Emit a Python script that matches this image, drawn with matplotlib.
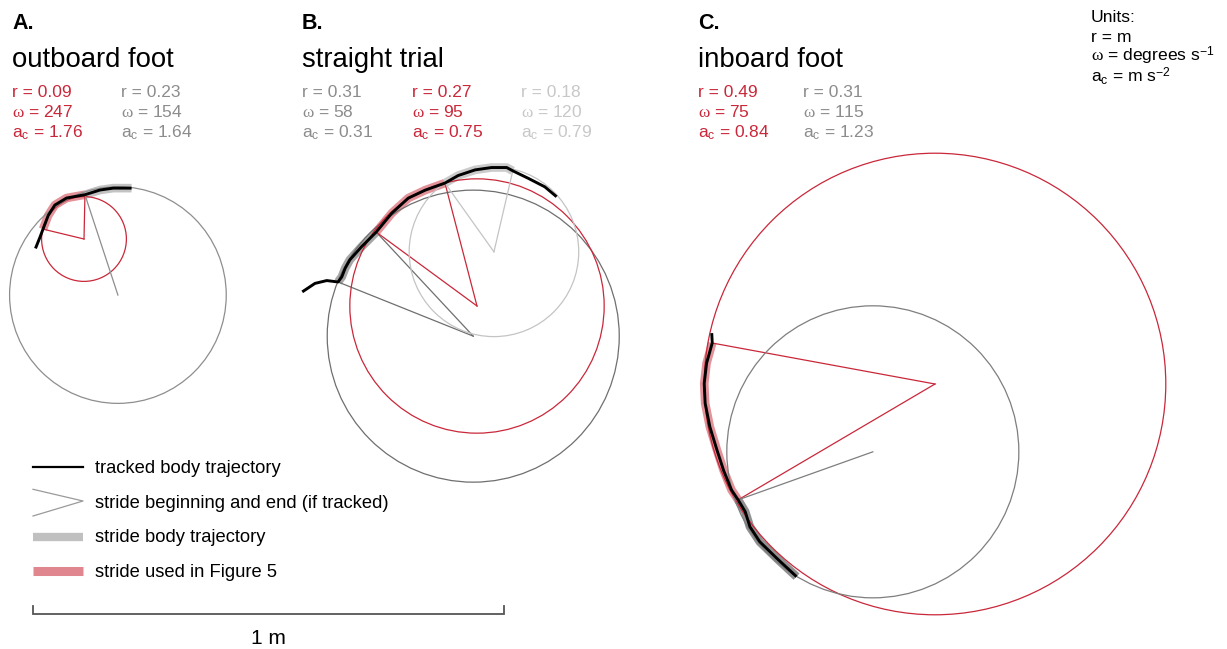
import matplotlib
matplotlib.use("Agg")
import matplotlib.pyplot as plt
from matplotlib.patches import Circle
import numpy as np

plt.rcParams["font.family"] = ["Liberation Sans", "DejaVu Sans"]
plt.rcParams["mathtext.fontset"] = "custom"
plt.rcParams["mathtext.rm"] = "Liberation Sans"
plt.rcParams["mathtext.it"] = "Liberation Serif"
plt.rcParams["mathtext.bf"] = "Liberation Sans:bold"

# ---------------------------------------------------------------------------
# Data (metres).  Each panel is expressed relative to the centre of the
# stride circle used in Figure 5 (red).  Trajectory indices mark stride ends.
# ---------------------------------------------------------------------------
PANEL_LETTERS = ["A.", "B.", "C."]
PANEL_TITLES = ["outboard foot", "straight trial", "inboard foot"]

# A. outboard foot
A_TRAJ_X = [-0.103, -0.093, -0.087, -0.076, -0.062, -0.037, 0.002, 0.034, 0.062, 0.101]
A_TRAJ_Y = [-0.020, 0.005, 0.021, 0.050, 0.072, 0.087, 0.094, 0.104, 0.108, 0.108]
A_CENTER_X = [0.0, 0.072]
A_CENTER_Y = [0.0, -0.119]
A_RADIUS = [0.09, 0.23]
A_OMEGA = [247, 154]
A_AC = [1.76, 1.64]
A_STRIDE_START = [2, 6]
A_STRIDE_END = [6, 9]
A_END_TRACKED = [(True, True), (True, False)]

# B. straight trial
B_TRAJ_X = [-0.371, -0.344, -0.319, -0.295, -0.287, -0.280, -0.270, -0.245, -0.214,
            -0.181, -0.146, -0.110, -0.068, -0.040, -0.004, 0.031, 0.063, 0.076,
            0.109, 0.144, 0.169]
B_TRAJ_Y = [0.030, 0.048, 0.054, 0.051, 0.062, 0.080, 0.098, 0.126, 0.157,
            0.197, 0.229, 0.246, 0.261, 0.277, 0.289, 0.294, 0.294, 0.287,
            0.271, 0.253, 0.232]
B_CENTER_X = [-0.008, 0.0, 0.036]
B_CENTER_Y = [-0.064, 0.0, 0.115]
B_RADIUS = [0.31, 0.27, 0.18]
B_OMEGA = [58, 95, 120]
B_AC = [0.31, 0.75, 0.79]
B_STRIDE_START = [3, 8, 12]
B_STRIDE_END = [8, 12, 17]
B_END_TRACKED = [(True, True), (True, True), (True, True)]

# C. inboard foot
C_TRAJ_X = [-0.474, -0.473, -0.485, -0.490, -0.488, -0.478, -0.463, -0.449, -0.432,
            -0.418, -0.403, -0.393, -0.372, -0.336, -0.294]
C_TRAJ_Y = [0.108, 0.087, 0.044, 0.001, -0.041, -0.091, -0.140, -0.183, -0.225,
            -0.246, -0.271, -0.303, -0.335, -0.370, -0.409]
C_CENTER_X = [0.0, -0.132]
C_CENTER_Y = [0.0, -0.144]
C_RADIUS = [0.49, 0.31]
C_OMEGA = [75, 115]
C_AC = [0.84, 1.23]
C_STRIDE_START = [1, 9]
C_STRIDE_END = [9, 14]
C_END_TRACKED = [(True, True), (True, False)]

SCALE_BAR_M = 1.0

LEGEND_LABELS = ["tracked body trajectory",
                 "stride beginning and end (if tracked)",
                 "stride body trajectory",
                 "stride used in Figure 5"]

UNIT_LINES = ["Units:", "r = m", "$\\omega$ = degrees s$^{\\mathrm{-1}}$",
              "a$_\\mathrm{c}$ = m s$^{\\mathrm{-2}}$"]

# ---------------------------------------------------------------------------
# Styles and layout
# ---------------------------------------------------------------------------
RED = "#c9283a"
PINK = "#e0868f"
W, H, DPI = 1227, 649, 100
PX_PER_M = 471.0
STAT_FS = 12.5

fig = plt.figure(figsize=(W / DPI, H / DPI), dpi=DPI)
ax = fig.add_axes([0, 0, 1, 1])
ax.set_xlim(0, W / PX_PER_M)
ax.set_ylim(0, H / PX_PER_M)
ax.set_aspect("equal")
ax.axis("off")


def fp(x, y):
    """Pixel position (origin top-left) to figure fraction."""
    return x / W, 1 - y / H


def mp(x, y):
    """Pixel position (origin top-left) to axes metres."""
    return x / PX_PER_M, (H - y) / PX_PER_M


def draw_panel(origin_px, tx, ty, cx, cy, radii, starts, ends, tracked,
               line_colors, hl_colors, hl_alpha):
    ox, oy = mp(*origin_px)
    X = ox + np.asarray(tx)
    Y = oy + np.asarray(ty)
    for k in range(len(radii)):
        s, e = starts[k], ends[k]
        ax.plot(X[s:e + 1], Y[s:e + 1], color=hl_colors[k], lw=6.2, alpha=hl_alpha[k],
                solid_capstyle="butt", solid_joinstyle="round", zorder=1)
        ccx, ccy = ox + cx[k], oy + cy[k]
        ax.add_patch(Circle((ccx, ccy), radii[k], fill=False, ec=line_colors[k],
                            lw=0.9, zorder=2))
        for idx, ok in zip((s, e), tracked[k]):
            if ok:
                ax.plot([ccx, X[idx]], [ccy, Y[idx]], color=line_colors[k], lw=0.9, zorder=2)
    ax.plot(X, Y, color="black", lw=2.1, zorder=3,
            solid_joinstyle="round", solid_capstyle="butt")


def stats(col_x, radii, omegas, acs, colors):
    for x, r, w, a, c in zip(col_x, radii, omegas, acs, colors):
        fig.text(*fp(x, 96.7), f"r = {r:.2f}", color=c, fontsize=STAT_FS)
        fig.text(*fp(x, 117.3), f"$\\omega$ = {w}", color=c, fontsize=STAT_FS)
        fig.text(*fp(x, 137.7), f"a$_\\mathrm{{c}}$ = {a:.2f}", color=c, fontsize=STAT_FS)


# Panel A
draw_panel((84, 239), A_TRAJ_X, A_TRAJ_Y, A_CENTER_X, A_CENTER_Y, A_RADIUS,
           A_STRIDE_START, A_STRIDE_END, A_END_TRACKED,
           [RED, "#8e8e8e"], [PINK, "#bdbdbd"], [0.9, 0.9])
# Panel B
draw_panel((477, 306), B_TRAJ_X, B_TRAJ_Y, B_CENTER_X, B_CENTER_Y, B_RADIUS,
           B_STRIDE_START, B_STRIDE_END, B_END_TRACKED,
           ["#6f6f6f", RED, "#c4c4c4"], ["#9c9c9c", PINK, "#c6c6c6"], [0.9, 0.9, 0.9])
# Panel C
draw_panel((935, 384), C_TRAJ_X, C_TRAJ_Y, C_CENTER_X, C_CENTER_Y, C_RADIUS,
           C_STRIDE_START, C_STRIDE_END, C_END_TRACKED,
           [RED, "#7e7e7e"], [PINK, "#858585"], [0.9, 0.9])

# Headings
for x, letter, title in zip([12, 302, 698], PANEL_LETTERS, PANEL_TITLES):
    fig.text(*fp(x, 29.3), letter, fontsize=15.5, fontweight="bold", color="black")
    fig.text(*fp(x, 66.7), title, fontsize=19.8, color="black")

stats([12, 121], A_RADIUS, A_OMEGA, A_AC, [RED, "#8c8c8c"])
stats([302, 411.5, 521], B_RADIUS, B_OMEGA, B_AC, ["#8c8c8c", RED, "#c8c8c8"])
stats([698, 803], C_RADIUS, C_OMEGA, C_AC, [RED, "#8c8c8c"])

# Units block
for y, u in zip([21.7, 41.7, 61.7, 82.0], UNIT_LINES):
    fig.text(*fp(1091, y), u, fontsize=12.6, color="black")

# Legend
lx0, lx1 = mp(33, 0)[0], mp(83, 0)[0]
ax.plot([lx0, lx1], [mp(0, 466.7)[1]] * 2, color="black", lw=1.6)
ax.plot([lx0, lx1, lx0], [mp(0, 489.3)[1], mp(0, 501)[1], mp(0, 516)[1]],
        color="#9a9a9a", lw=0.9)
ax.plot([lx0, lx1], [mp(0, 537)[1]] * 2, color="#c0c0c0", lw=6, solid_capstyle="butt")
ax.plot([lx0, lx1], [mp(0, 571.3)[1]] * 2, color=PINK, lw=6.5, solid_capstyle="butt")
for y, lab in zip([473.3, 508.3, 541.7, 576.7], LEGEND_LABELS):
    fig.text(*fp(95, y), lab, fontsize=13.2, color="black")

# Scale bar
sx, sy = mp(33, 614)
tick = 7.5 / PX_PER_M
ax.plot([sx, sx, sx + SCALE_BAR_M, sx + SCALE_BAR_M], [sy + tick, sy, sy, sy + tick],
        color="#555555", lw=1.3, solid_joinstyle="miter")
fig.text((sx + SCALE_BAR_M / 2) * PX_PER_M / W, fp(0, 643.5)[1], "1 m",
         fontsize=15, ha="center", color="black")

fig.savefig("out.png", dpi=DPI)
